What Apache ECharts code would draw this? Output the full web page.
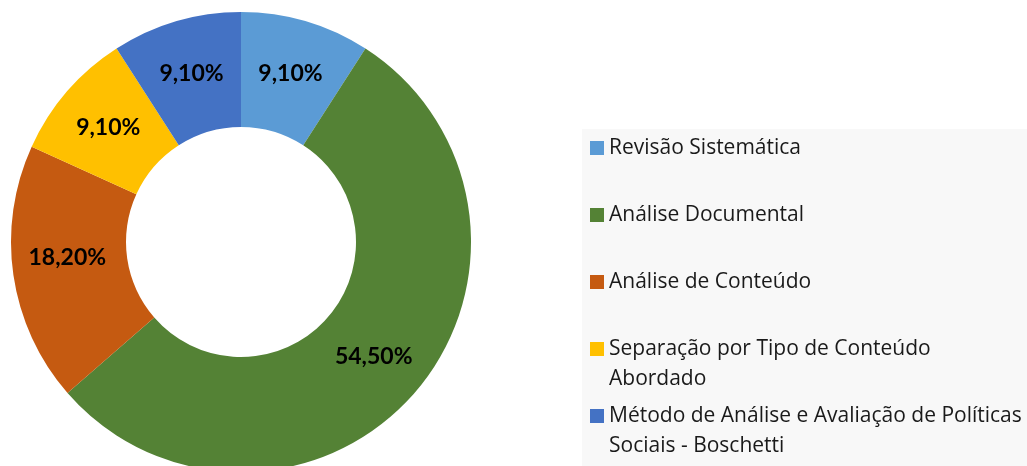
<!DOCTYPE html>
<html>
<head>
<meta charset="utf-8">
<script src="https://cdn.jsdelivr.net/npm/echarts@6/dist/echarts.min.js"></script>
<style>
html,body{margin:0;padding:0;background:#fff;}
#chart{width:1027px;height:466px;}
</style>
</head>
<body>
<div id="chart"></div>
<script>
var categories = [
  'Revisão Sistemática',
  'Análise Documental',
  'Análise de Conteúdo',
  'Separação por Tipo de Conteúdo\nAbordado',
  'Método de Análise e Avaliação de Políticas\nSociais - Boschetti'
];
var values = [9.1, 54.5, 18.2, 9.1, 9.1];
var colors = ['#5B9BD5', '#548235', '#C55A11', '#FFC000', '#4472C4'];

/* layout / style constants */
var legendCenters = [148, 215, 282, 349, 416];
var labelNudge = [[0, 0], [0, 0], [0, -10], [0, 0], [0, 0]];

var chart = echarts.init(document.getElementById('chart'), null, {renderer: 'canvas'});

var legends = categories.map(function (name, i) {
  var twoLine = name.indexOf('\n') >= 0;
  return {
    data: [name],
    orient: 'vertical',
    left: 590,
    top: legendCenters[i] - (twoLine ? 45 : 15),
    padding: 0,
    itemWidth: 14,
    itemHeight: 14,
    itemGap: 0,
    icon: 'rect',
    selectedMode: false,
    formatter: function (n) {
      return n.indexOf('\n') >= 0 ? '\n' + n : n;
    },
    textStyle: {
      fontFamily: 'Open Sans',
      fontSize: 21,
      color: '#1a1a1a',
      lineHeight: 30
    }
  };
});

var option = {
  backgroundColor: '#ffffff',
  animation: false,
  color: colors,
  graphic: [{
    type: 'rect',
    z: -10,
    silent: true,
    shape: {x: 582, y: 129, width: 445, height: 337},
    style: {fill: '#f8f8f8'}
  }],
  legend: legends,
  series: [{
    type: 'pie',
    center: [241, 242],
    radius: [115, 230],
    startAngle: 90,
    clockwise: true,
    avoidLabelOverlap: false,
    itemStyle: {borderWidth: 0},
    label: {
      show: true,
      position: 'inside',
      fontFamily: 'Lato',
      fontWeight: 'bold',
      fontSize: 23,
      color: '#000',
      formatter: function (p) {
        return p.value.toFixed(2).replace('.', ',') + '%';
      }
    },
    labelLine: {show: false},
    data: categories.map(function (n, i) {
      return {name: n, value: values[i], label: {offset: labelNudge[i]}};
    })
  }]
};
chart.setOption(option);
</script>
</body>
</html>
